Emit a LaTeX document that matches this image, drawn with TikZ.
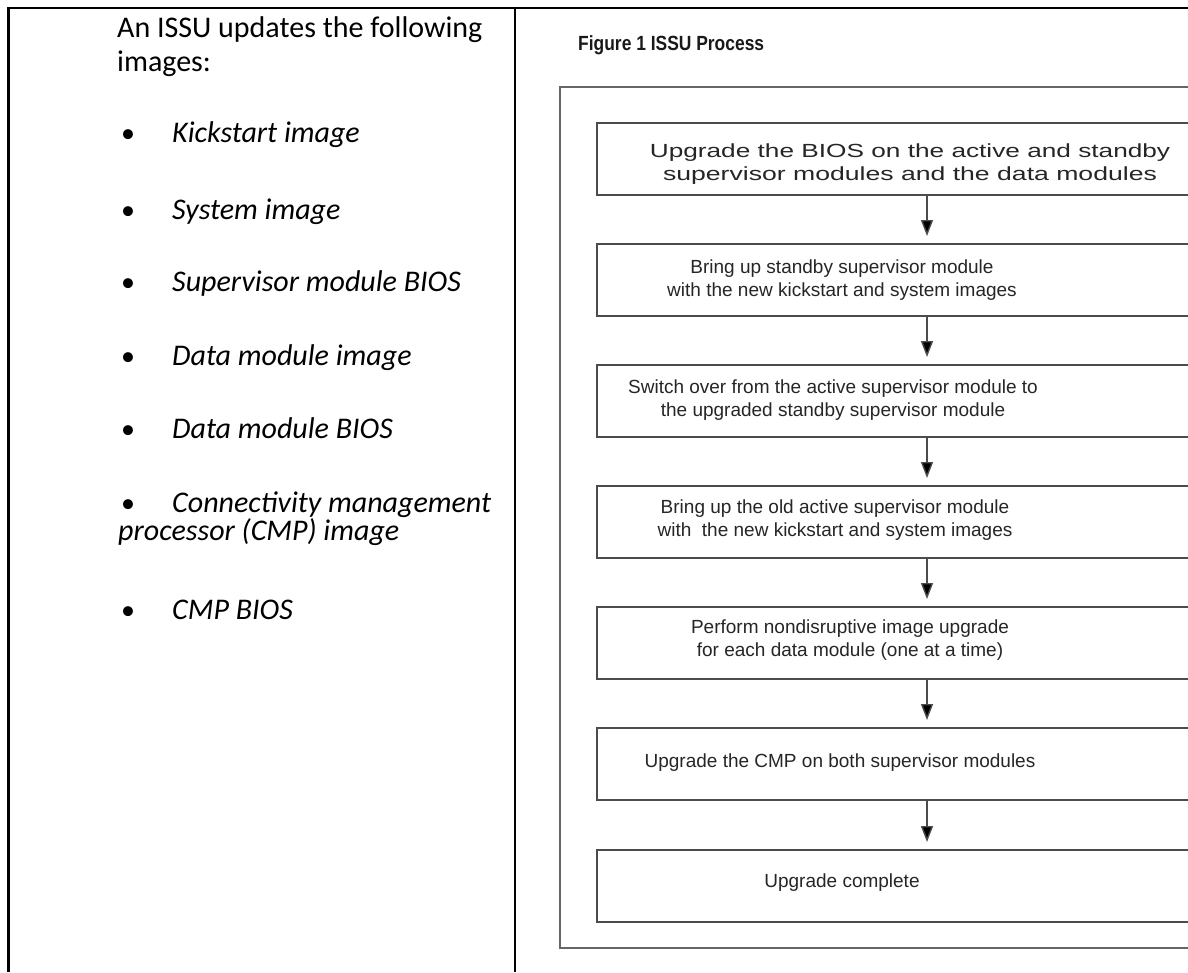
\documentclass[tikz,border=0pt]{standalone}
\usepackage{fontspec}
\setmainfont{Carlito}
\newfontfamily\arialf{Liberation Sans}
\usetikzlibrary{arrows.meta}
\begin{document}
\begin{tikzpicture}[x=1pt,y=-1pt,
  tbl/.style={line width=2.5pt, draw=black},
  framebox/.style={draw=black!60, line width=2pt},
  stepbox/.style={draw=black!70, line width=2pt, minimum width=660pt, minimum height=72pt, inner sep=0pt, anchor=north},
  steptext/.style={font=\arialf\fontsize{19}{23}\selectfont, align=center, text=black!85, inner sep=0pt},
  flow/.style={draw=black!70, line width=1.4pt, shorten >=7pt, -{Triangle[length=16pt,width=12pt,fill=black]}},
  head/.style={font=\fontsize{30}{33}\selectfont, anchor=base west, inner sep=0pt},
  item/.style={font=\itshape\fontsize{30}{33}\selectfont, anchor=base west, inner sep=0pt},
  bul/.style={font=\fontsize{28}{33}\selectfont, anchor=base west, inner sep=0pt}
]
\useasboundingbox (0,0) rectangle (1188,972);
\fill[white] (0,0) rectangle (1188,972);
% table
\draw[tbl, line join=miter] (8.5,972) -- (8.5,8) -- (1188,8);
\draw[tbl] (515,8) -- (515,972);
% left column text
\node[head] (h1) at (117,37) {An ISSU updates the following};
\node[head] (h2) at (117,71) {images:};
\foreach \y/\t [count=\i] in {142/Kickstart image,219/System image,291/Supervisor module BIOS,365/Data module image,438/Data module BIOS,512/Connectivity management,619/CMP BIOS}{
  \node[bul] (bu\i) at (121,\y) {\textbullet};
  \node[item] (it\i) at (172,\y) {\t};
}
\node[item] (it6b) at (118,540) {processor (CMP) image};
% figure
\node[font=\arialf\bfseries\fontsize{20.5}{22}\selectfont, anchor=base west, inner sep=0pt, text=black!90] (title) at (578,50) {\scalebox{0.85}[1]{Figure 1 ISSU Process}};
\begin{scope}
\clip (0,0) rectangle (1188,972);
\draw[framebox] (560,87) rectangle (1300,948);
\node[stepbox] (b1) at (927,122) {};
\node[stepbox] (b2) at (927,243) {};
\node[stepbox] (b3) at (927,364) {};
\node[stepbox] (b4) at (927,485) {};
\node[stepbox] (b5) at (927,606) {};
\node[stepbox] (b6) at (927,727) {};
\node[stepbox] (b7) at (927,849) {};
\end{scope}
\node[steptext] (t1) at (910,164) {\scalebox{1.38}[1]{Upgrade the BIOS on the active and standby}\\\scalebox{1.4}[1]{supervisor modules and the data modules}};
\node[steptext] (t2) at (842,280) {Bring up standby supervisor module\\with the new kickstart and system images};
\node[steptext] (t3) at (833,400) {Switch over from the active supervisor module to\\the upgraded standby supervisor module};
\node[steptext] (t4) at (835,520) {Bring up the old active supervisor module\\with\ \ the new kickstart and system images};
\node[steptext] (t5) at (850,640) {Perform nondisruptive image upgrade\\for each data module (one at a time)};
\node[steptext] (t6) at (840,763) {Upgrade the CMP on both supervisor modules};
\node[steptext] (t7) at (842,883) {Upgrade complete};
\draw[flow] (b1.south) -- (b2.north);
\draw[flow] (b2.south) -- (b3.north);
\draw[flow] (b3.south) -- (b4.north);
\draw[flow] (b4.south) -- (b5.north);
\draw[flow] (b5.south) -- (b6.north);
\draw[flow] (b6.south) -- (b7.north);
\end{tikzpicture}
\end{document}
